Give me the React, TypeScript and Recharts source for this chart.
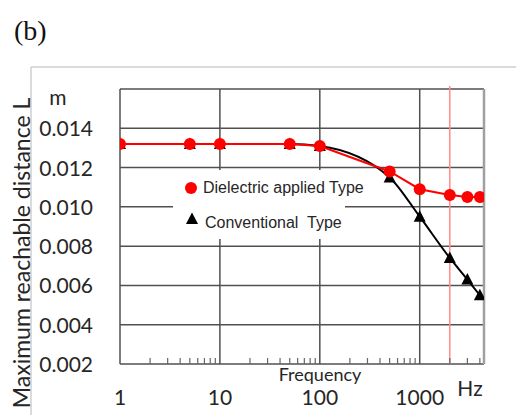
import React from 'react';
import {
  ComposedChart,
  Line,
  XAxis,
  YAxis,
  CartesianGrid,
  ReferenceLine,
  Legend,
} from 'recharts';

// Measured reach vs. drive frequency
const frequency = [1, 5, 10, 50, 100, 500, 1000, 2000, 3000, 4000];
const dielectricApplied = [0.0132, 0.0132, 0.0132, 0.0132, 0.0131, 0.0118, 0.0109, 0.0106, 0.0105, 0.0105];
const conventional = [0.0132, 0.0132, 0.0132, 0.0132, 0.0131, 0.0115, 0.0095, 0.0074, 0.0063, 0.0055];

const seriesNames = ['Dielectric applied Type', 'Conventional  Type'];

// Axis ticks
const decadeTicks = [1, 10, 100, 1000];
const decadeLabels = ['1', '10', '100', '1000'];
const minorTicks = [
  2, 3, 4, 5, 6, 7, 8, 9,
  20, 30, 40, 50, 60, 70, 80, 90,
  200, 300, 400, 500, 600, 700, 800, 900,
  2000, 3000, 4000,
];
const frequencyDomain = [1, 4400];
const distanceTicks = [0.002, 0.004, 0.006, 0.008, 0.01, 0.012, 0.014, 0.016];
const distanceLabels = ['0.002', '0.004', '0.006', '0.008', '0.010', '0.012', '0.014', ''];
const distanceDomain = [0.002, 0.016];
const highlightFrequency = 2000;

const data = frequency.map((f, i) => ({
  f,
  dielectric: dielectricApplied[i],
  conventional: conventional[i],
}));

const TEXT = '#262626';
const GRID = '#505050';
const FONT = 'Lato, "Open Sans", sans-serif';
const LEGEND_FONT = '"Liberation Sans", Arial, sans-serif';

const FreqTick = (props: any) => {
  const { x, y, payload } = props;
  const idx = decadeTicks.indexOf(payload.value);
  return (
    <g>
      {idx < 0 && <line x1={x} x2={x} y1={y} y2={y - 6} stroke="#666" strokeWidth={1.2} />}
      {idx >= 0 && (
        <text x={x} y={y + 41} textAnchor="middle" fill={TEXT} fontSize={21} fontFamily={FONT}>
          {decadeLabels[idx]}
        </text>
      )}
    </g>
  );
};

const DistanceTick = (props: any) => {
  const { x, y, payload } = props;
  const idx = distanceTicks.findIndex((t) => Math.abs(t - payload.value) < 1e-9);
  const label = idx >= 0 ? distanceLabels[idx] : '';
  return (
    <text x={x - 27} y={y + 8} textAnchor="end" fill={TEXT} fontSize={21} fontFamily={FONT}>
      {label}
    </text>
  );
};

const Triangle = (props: any) => {
  const { cx, cy, index } = props;
  if (cx == null || cy == null) return <g key={`tri-${index}`} />;
  return (
    <path
      key={`tri-${index}`}
      d={`M${cx},${cy - 6.5} L${cx + 6},${cy + 5} L${cx - 6},${cy + 5} Z`}
      fill="#000"
    />
  );
};

const LegendBox = () => (
  <svg width={200} height={69} style={{ display: 'block', overflow: 'visible' }}>
    <rect x={0} y={0} width={172} height={69} fill="#fff" />
    <circle cx={18} cy={18} r={6} fill="#ff0000" />
    <text x={30} y={23} fill={TEXT} fontSize={16} fontFamily={LEGEND_FONT}>
      {seriesNames[0]}
    </text>
    <path d="M19,42.5 L25,54 L13,54 Z" fill="#000" />
    <text x={32} y={58} fill={TEXT} fontSize={16} fontFamily={LEGEND_FONT} style={{ whiteSpace: 'pre' }}>
      {seriesNames[1]}
    </text>
  </svg>
);

export default function App() {
  return (
    <div style={{ position: 'absolute', left: 0, top: 0, width: 516, height: 415, background: '#fff' }}>
      <svg width={516} height={415} style={{ position: 'absolute', left: 0, top: 0 }}>
        <line x1={31} y1={67} x2={516} y2={67} stroke="#cfcfcf" strokeWidth={1.5} />
        <line x1={31} y1={67} x2={31} y2={415} stroke="#cfcfcf" strokeWidth={1.5} />
        <text x={14} y={40} fontSize={28} fontFamily='"Liberation Serif", "Times New Roman", serif' fill="#111">
          (b)
        </text>
        <text x={58} y={105} textAnchor="middle" fontSize={21} fontFamily={FONT} fill={TEXT}>
          m
        </text>
        <text x={470} y={396} textAnchor="middle" fontSize={21} fontFamily={FONT} fill={TEXT}>
          Hz
        </text>
        <text
          transform="translate(30, 253) rotate(-90)"
          textAnchor="middle"
          fontSize={23}
          fontFamily={FONT}
          fill={TEXT}
        >
          Maximum reachable distance L
        </text>
      </svg>
      <div style={{ position: 'absolute', left: 0, top: 0 }}>
        <ComposedChart
          width={516}
          height={415}
          data={data}
          margin={{ top: 89, right: 32, bottom: 50, left: 119 }}
        >
          <CartesianGrid vertical={false} stroke={GRID} strokeWidth={1.5} />
          {decadeTicks.map((t) => (
            <ReferenceLine key={`dec-${t}`} x={t} stroke={GRID} strokeWidth={1.5} />
          ))}
          <ReferenceLine x={frequencyDomain[1]} stroke="#a0a0a0" strokeWidth={2.5} />
          <ReferenceLine
            segment={[
              { x: highlightFrequency, y: distanceDomain[0] },
              { x: highlightFrequency, y: 0.01615 },
            ]}
            ifOverflow="visible"
            stroke="#ff8a8a"
            strokeWidth={1.5}
          />
          <XAxis
            dataKey="f"
            type="number"
            scale="log"
            domain={frequencyDomain}
            allowDataOverflow
            ticks={[...decadeTicks, ...minorTicks].sort((a, b) => a - b)}
            interval={0}
            height={1}
            tickSize={0}
            tickMargin={0}
            tickLine={false}
            axisLine={false}
            tick={<FreqTick />}
            label={{
              content: (p: any) => (
                <text
                  x={p.viewBox.x + 200}
                  y={p.viewBox.y + 17}
                  textAnchor="middle"
                  fontSize={18}
                  fontFamily={FONT}
                  fill={TEXT}
                >
                  Frequency
                </text>
              ),
            }}
          />
          <YAxis
            type="number"
            domain={distanceDomain}
            ticks={distanceTicks}
            interval={0}
            width={1}
            tickSize={0}
            tickMargin={0}
            tickLine={false}
            axisLine={false}
            tick={<DistanceTick />}
          />
          <Legend
            layout="vertical"
            align="center"
            verticalAlign="middle"
            content={() => <LegendBox />}
            wrapperStyle={{ left: 173, top: 170, width: 200, height: 69 }}
          />
          <Line
            dataKey="conventional"
            name={seriesNames[1]}
            type="monotone"
            stroke="#000"
            strokeWidth={2}
            dot={<Triangle />}
            isAnimationActive={false}
          />
          <Line
            dataKey="dielectric"
            name={seriesNames[0]}
            type="linear"
            stroke="#ff0000"
            strokeWidth={2}
            dot={{ r: 6, fill: '#ff0000', stroke: '#ff0000', strokeWidth: 0 }}
            isAnimationActive={false}
          />
        </ComposedChart>
      </div>
    </div>
  );
}
